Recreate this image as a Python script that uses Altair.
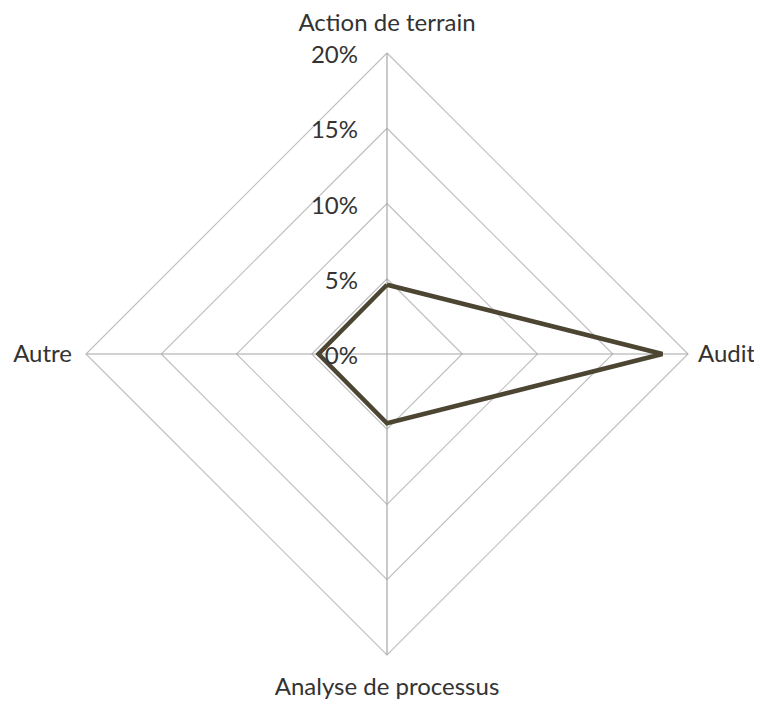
import altair as alt
import pandas as pd

categories = ["Action de terrain", "Audit", "Analyse de processus", "Autre"]
values = [4.6, 18.3, 4.6, 4.55]
levels = [5, 10, 15, 20]
tick_labels = ["0%", "5%", "10%", "15%", "20%"]
tick_values = [0, 5, 10, 15, 20]

n = len(categories)
angle_of = {c: i * 360.0 / n for i, c in enumerate(categories)}

# series polygon (closed)
series = pd.DataFrame({
    "cat": categories + [categories[0]],
    "v": values + [values[0]],
    "ord": list(range(n + 1)),
})
series["ang"] = series["cat"].map(angle_of)

# grid rings
rows = []
for lv in levels:
    for k in range(n + 1):
        c = categories[k % n]
        rows.append({"lv": lv, "cat": c, "v": lv, "ord": k, "ang": angle_of[c]})
rings = pd.DataFrame(rows)

spokes = pd.DataFrame({"cat": categories, "v": [max(levels)] * n})
spokes["ang"] = spokes["cat"].map(angle_of)

ticks = pd.DataFrame({"t": tick_labels, "v": tick_values})

R = 301 / 20.0
cx, cy = 379, 346
W, H = 746, 694
xdom = [-cx / R, (W - cx) / R]
ydom = [(cy - H) / R, cy / R]

xs = alt.Scale(domain=xdom, nice=False, zero=False)
ys = alt.Scale(domain=ydom, nice=False, zero=False)

def polar(ch):
    return ch.transform_calculate(
        px="datum.v * sin(datum.ang * PI / 180)",
        py="datum.v * cos(datum.ang * PI / 180)",
        zx="0",
        zy="0",
    )

X = alt.X("px:Q", scale=xs, axis=None)
Y = alt.Y("py:Q", scale=ys, axis=None)

ring_layer = polar(alt.Chart(rings)).mark_line(color="#c0c0c0", strokeWidth=1.2).encode(
    x=X, y=Y, detail="lv:N", order="ord:Q"
)

spoke_layer = polar(alt.Chart(spokes)).mark_rule(color="#a6a6a6", strokeWidth=1.2).encode(
    x=alt.X("zx:Q", scale=xs, axis=None), y=alt.Y("zy:Q", scale=ys, axis=None),
    x2="px:Q", y2="py:Q",
)

series_layer = polar(alt.Chart(series)).mark_line(color="#4b4532", strokeWidth=4.5, strokeJoin="miter").encode(
    x=X, y=Y, order="ord:Q"
)

font = "Lato"
fs = 24
tcol = "#333333"

tick_layer = alt.Chart(ticks).transform_calculate(px="0", py="datum.v").mark_text(
    align="right", baseline="middle", dx=-29, dy=3, font=font, fontSize=fs, color=tcol
).encode(x=X, y=Y, text="t:N")

label_specs = {
    "Action de terrain": dict(align="center", baseline="middle", dx=0, dy=-29),
    "Audit": dict(align="left", baseline="middle", dx=10, dy=1),
    "Analyse de processus": dict(align="center", baseline="middle", dx=0, dy=33),
    "Autre": dict(align="right", baseline="middle", dx=-14, dy=1),
}
label_layers = []
for c in categories:
    lab = polar(alt.Chart(spokes).transform_filter(alt.datum.cat == c)).mark_text(
        font=font, fontSize=fs, color=tcol, **label_specs[c]
    ).encode(x=X, y=Y, text="cat:N")
    label_layers.append(lab)

chart = alt.layer(ring_layer, spoke_layer, series_layer, tick_layer, *label_layers).properties(
    width=W, height=H, padding=0, autosize=alt.AutoSizeParams(type="none"),
    background="white",
).configure_view(strokeOpacity=0, strokeWidth=0, fill="white")

chart.save("out.html", embed_options={"renderer": "svg", "actions": False})
